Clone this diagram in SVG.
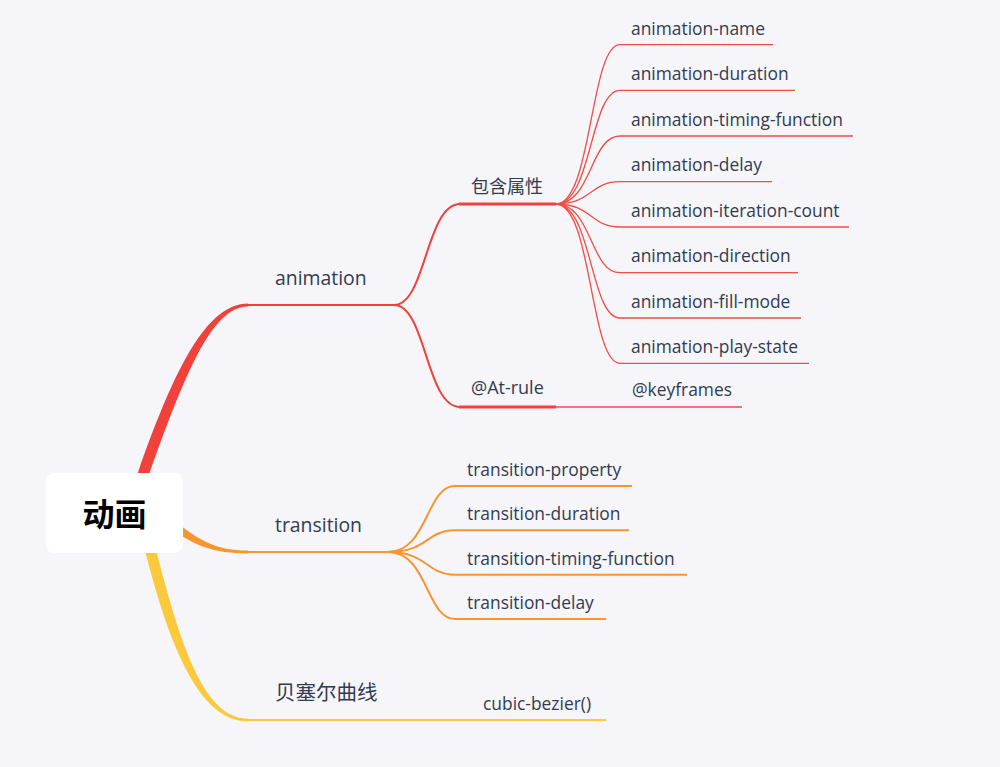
<svg xmlns="http://www.w3.org/2000/svg" width="1000" height="767" viewBox="0 0 1000 767">
<style>
.bg{fill:#F5F5FA}
.t{font-family:"Open Sans","Noto Sans CJK SC",sans-serif;fill:#323C50}
.main{font-size:19.4px}
.cjk{font-family:"Noto Sans CJK SC","Open Sans",sans-serif;font-size:20.5px}
.sub{font-size:18px}
.subcjk{font-family:"Noto Sans CJK SC","Open Sans",sans-serif;font-size:18px}
.leaf{font-size:17.4px}
.red{stroke:#F0423A;fill:none}
.org{stroke:#F7962F;fill:none}
.yel{stroke:#FCC93C;fill:none}
.rleaf{stroke:#F04D45;stroke-width:1.3;fill:none}
</style>
<rect class="bg" x="0" y="0" width="1000" height="767"/>
<g id="connectors">
  <path fill="#F0423A" d="M131.2 492 L137.8 473.2 C174.5 368 207 303.6 248 303.6 L248 306.4 C212 306.6 185.5 372 148.2 476.8 L141.6 495.6 Z"/>
  <line class="red" x1="247" y1="305" x2="396" y2="305" stroke-width="2"/>
  <path fill="#F7962F" d="M172.6 518.9 C198 540 216 550.5 248 550.5 L248 553.5 C214 553.5 192 546 167.4 525.1 Z"/>
  <line class="org" x1="247" y1="552" x2="390" y2="552" stroke-width="2"/>
  <path fill="#FCC93C" d="M153.3 538.7 C178.5 638.5 202 718.6 248 718.6 L248 721.4 C198 721.5 167.5 641.5 142.7 541.3 Z"/>
  <line class="yel" x1="247" y1="720" x2="606" y2="720" stroke-width="2"/>
  <path class="red" stroke-width="2" d="M394 305 C426 305 426 204 460 204"/>
  <line class="red" x1="459" y1="204" x2="556" y2="204" stroke-width="3"/>
  <path class="red" stroke-width="2" d="M394 305 C426 305 426 407 460 407"/>
  <line class="red" x1="459" y1="407" x2="556" y2="407" stroke-width="3"/>
  <line class="rleaf" x1="555" y1="407" x2="742" y2="407"/>
  <path class="rleaf" d="M556 204 C592 204 590 44.7 620 44.7 H773"/>
  <path class="rleaf" d="M556 204 C592 204 590 90.3 620 90.3 H795"/>
  <path class="rleaf" d="M556 204 C592 204 590 136 620 136 H853"/>
  <path class="rleaf" d="M556 204 C592 204 590 181.7 620 181.7 H772"/>
  <path class="rleaf" d="M556 204 C592 204 590 227 620 227 H849"/>
  <path class="rleaf" d="M556 204 C592 204 590 272.7 620 272.7 H798"/>
  <path class="rleaf" d="M556 204 C592 204 590 318 620 318 H801"/>
  <path class="rleaf" d="M556 204 C592 204 590 363.3 620 363.3 H809"/>
  <path class="org" stroke-width="2" d="M388 552 C428 552 426 486 455 486 H632"/>
  <path class="org" stroke-width="2" d="M388 552 C428 552 426 530.3 455 530.3 H629"/>
  <path class="org" stroke-width="2" d="M388 552 C428 552 426 574.7 455 574.7 H687"/>
  <path class="org" stroke-width="2" d="M388 552 C428 552 426 619 455 619 H606"/>
</g>
<g id="root">
  <rect x="46" y="473" width="137" height="80" rx="8" ry="8" fill="#FFFFFF"/>
  <text x="114.5" y="525.5" text-anchor="middle" font-family="Noto Sans CJK SC, sans-serif" font-size="32" font-weight="bold" fill="#000000">动画</text>
</g>
<g id="n-animation"><text class="t main" x="275" y="285">animation</text></g>
<g id="n-transition"><text class="t main" x="275" y="532">transition</text></g>
<g id="n-bezier"><text class="t cjk" x="275" y="700">贝塞尔曲线</text></g>
<g id="n-props"><text class="t subcjk" x="471" y="193">包含属性</text></g>
<g id="n-atrule"><text class="t sub" x="471" y="394">@At-rule</text></g>
<g id="n-keyframes"><text class="t leaf" x="632" y="396">@keyframes</text></g>
<g id="n-name"><text class="t leaf" x="631" y="34.5">animation-name</text></g>
<g id="n-duration"><text class="t leaf" x="631" y="80">animation-duration</text></g>
<g id="n-timing"><text class="t leaf" x="631" y="125.5">animation-timing-function</text></g>
<g id="n-delay"><text class="t leaf" x="631" y="171">animation-delay</text></g>
<g id="n-iteration"><text class="t leaf" x="631" y="216.5">animation-iteration-count</text></g>
<g id="n-direction"><text class="t leaf" x="631" y="262">animation-direction</text></g>
<g id="n-fill"><text class="t leaf" x="631" y="307.5">animation-fill-mode</text></g>
<g id="n-play"><text class="t leaf" x="631" y="353">animation-play-state</text></g>
<g id="n-tprop"><text class="t leaf" x="467" y="476">transition-property</text></g>
<g id="n-tdur"><text class="t leaf" x="467" y="520">transition-duration</text></g>
<g id="n-ttiming"><text class="t leaf" x="467" y="564.5">transition-timing-function</text></g>
<g id="n-tdelay"><text class="t leaf" x="467" y="609">transition-delay</text></g>
<g id="n-cubic"><text class="t leaf" x="483" y="709.5">cubic-bezier()</text></g>
</svg>
